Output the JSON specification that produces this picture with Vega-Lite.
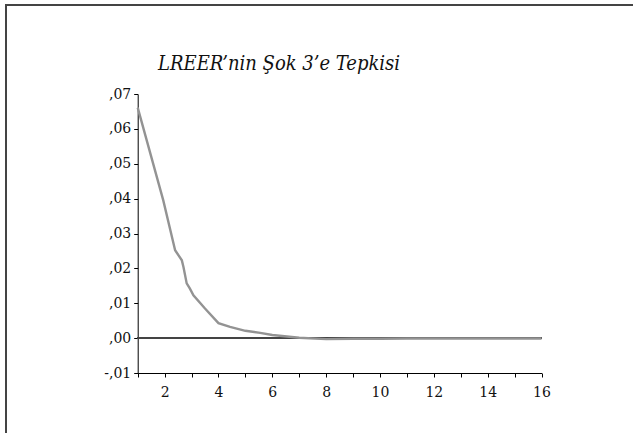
{
  "$schema": "https://vega.github.io/schema/vega-lite/v6.json",
  "width": 700,
  "height": 500,
  "autosize": {"type": "none"},
  "padding": {"left": 6, "top": 5, "right": 0, "bottom": 0},
  "background": "white",
  "config": {
    "view": {"stroke": "#444444", "strokeWidth": 2},
    "font": "DejaVu Serif"
  },
  "title": {
    "text": "LREER’nin Şok 3’e Tepkisi",
    "font": "DejaVu Serif Condensed, DejaVu Serif",
    "fontStyle": "italic",
    "fontWeight": "normal",
    "fontSize": 20,
    "color": "#111111",
    "anchor": "start",
    "dx": 152,
    "offset": -85,
    "baseline": "alphabetic"
  },
  "data": {
    "values": [
      {"t": 1.0, "v": 0.0661},
      {"t": 1.95, "v": 0.0395},
      {"t": 2.39, "v": 0.0252},
      {"t": 2.64, "v": 0.0223},
      {"t": 2.7, "v": 0.0204},
      {"t": 2.82, "v": 0.0157},
      {"t": 2.94, "v": 0.0142},
      {"t": 3.07, "v": 0.0123},
      {"t": 3.5, "v": 0.0085},
      {"t": 4.0, "v": 0.0043},
      {"t": 4.43, "v": 0.0032},
      {"t": 5.0, "v": 0.0021},
      {"t": 5.55, "v": 0.0015},
      {"t": 6.0, "v": 0.0009},
      {"t": 7.0, "v": 0.0001},
      {"t": 8.0, "v": -0.0003},
      {"t": 9.0, "v": -0.0002},
      {"t": 10.0, "v": -0.0002},
      {"t": 11.0, "v": -0.0001},
      {"t": 12.0, "v": -0.0001},
      {"t": 13.0, "v": -0.0001},
      {"t": 14.0, "v": -0.0001},
      {"t": 15.0, "v": -0.0001},
      {"t": 16.0, "v": -0.0001}
    ]
  },
  "encoding": {
    "x": {
      "field": "t",
      "type": "quantitative",
      "scale": {"domain": [1, 16], "range": [131.7, 535.5], "nice": false, "zero": false},
      "axis": {
        "orient": "bottom",
        "offset": -132,
        "title": null,
        "grid": false,
        "values": [1, 2, 3, 4, 5, 6, 7, 8, 9, 10, 11, 12, 13, 14, 15, 16],
        "labelExpr": "datum.value % 2 == 0 ? datum.label : ''",
        "domainColor": "#000000",
        "domainWidth": 1,
        "tickColor": "#000000",
        "tickWidth": 1,
        "tickSize": 4,
        "labelFont": "DejaVu Serif",
        "labelFontSize": 14,
        "labelColor": "#111111",
        "labelPadding": 8,
        "labelFlush": false
      }
    },
    "y": {
      "field": "v",
      "type": "quantitative",
      "scale": {"domain": [-0.01, 0.07], "range": [368, 89], "nice": false, "zero": false},
      "axis": {
        "orient": "left",
        "offset": -131.7,
        "title": null,
        "grid": false,
        "values": [-0.01, 0, 0.01, 0.02, 0.03, 0.04, 0.05, 0.06, 0.07],
        "labelExpr": "replace(replace(format(datum.value, '.2f'), '0.', ','), '−', '-')",
        "domainColor": "#000000",
        "domainWidth": 1,
        "tickColor": "#000000",
        "tickWidth": 1,
        "tickSize": 4,
        "labelFont": "DejaVu Serif",
        "labelFontSize": 14,
        "labelColor": "#111111",
        "labelPadding": 3,
        "labelFlush": false
      }
    }
  },
  "layer": [
    {
      "mark": {"type": "rule", "color": "#444444", "strokeWidth": 1.2},
      "encoding": {
        "x": {"datum": 1, "type": "quantitative"},
        "x2": {"datum": 16},
        "y": {"datum": 0, "type": "quantitative"}
      }
    },
    {
      "mark": {"type": "line", "color": "#939393", "strokeWidth": 2.4},
      "encoding": {}
    }
  ]
}
